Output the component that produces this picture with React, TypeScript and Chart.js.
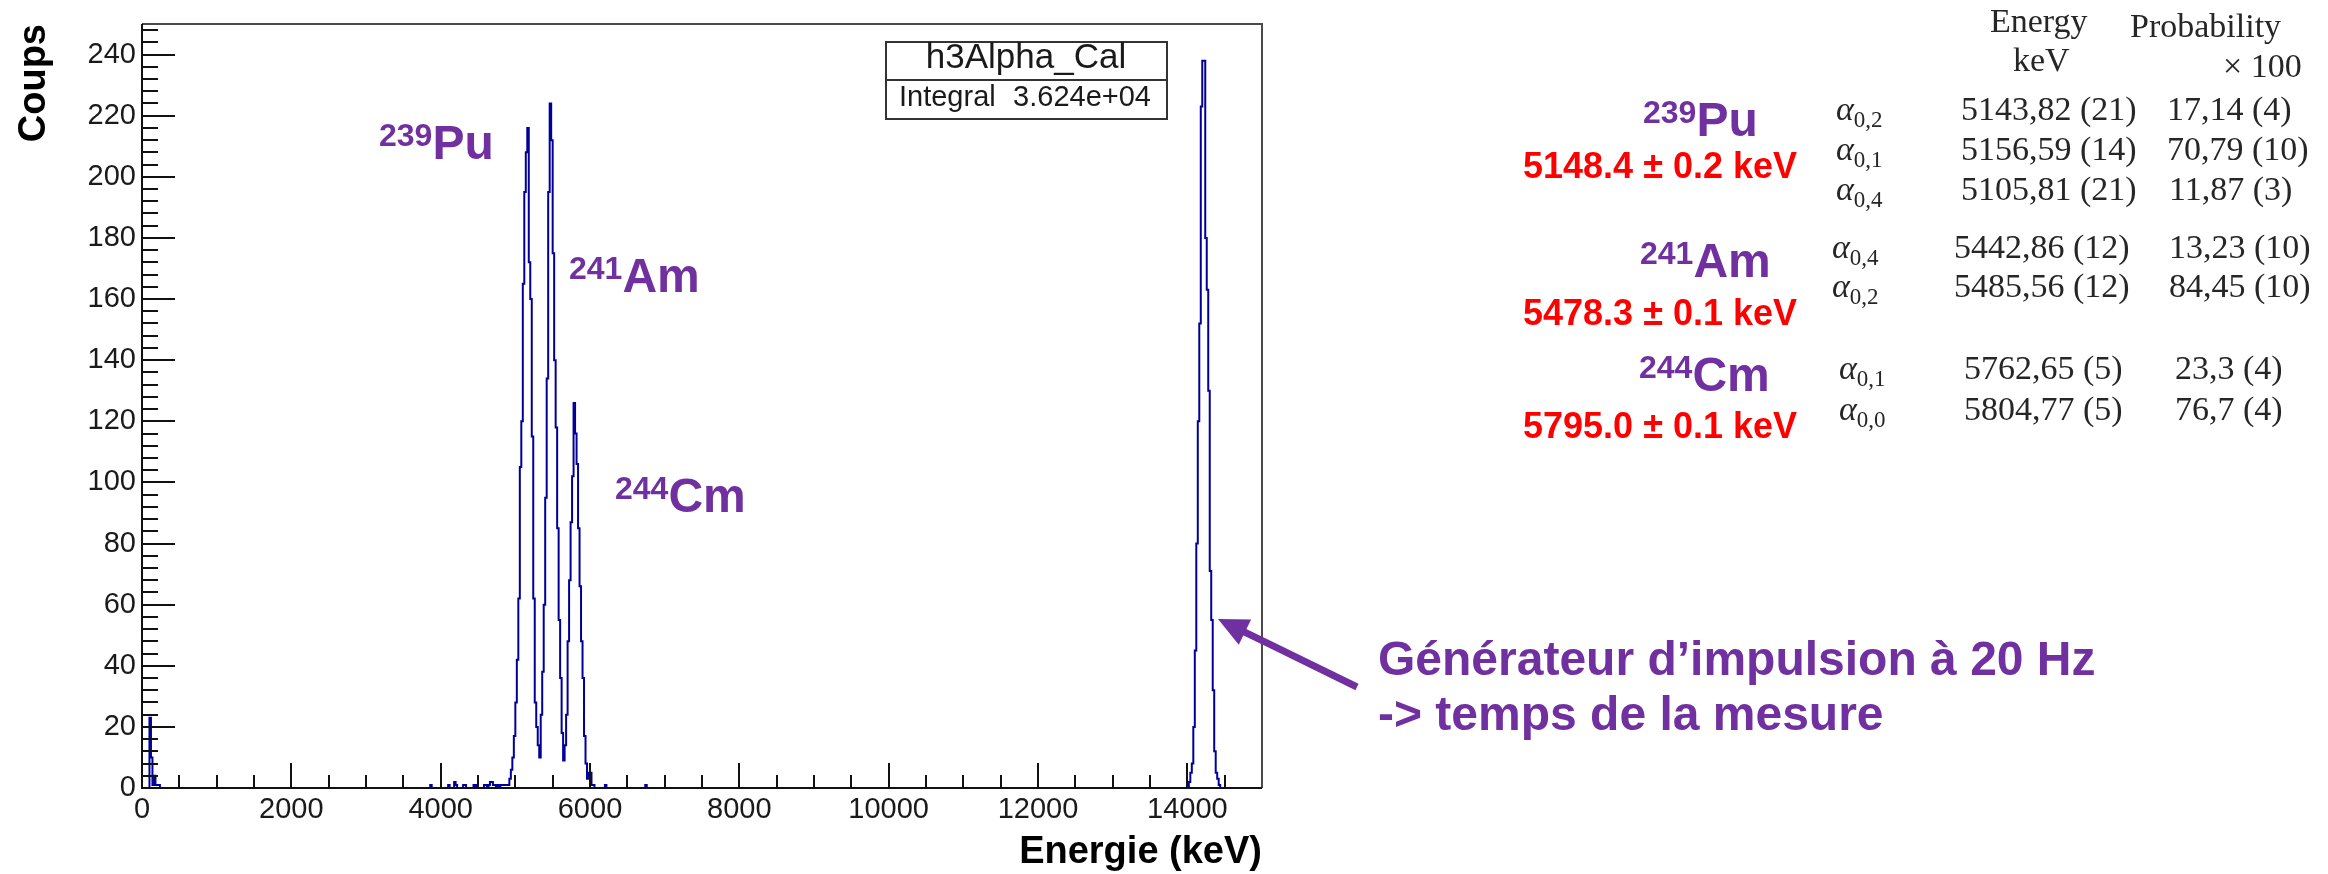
import React, { useEffect, useRef } from "react";
import { Chart, registerables } from "chart.js";

Chart.register(...registerables);

// ---------------- page geometry ----------------
const W = 2328;
const H = 874;
const SANS = "'Liberation Sans', Arial, Helvetica, sans-serif";
const SERIF = "'Liberation Serif', 'Times New Roman', serif";
const PURPLE = "#7030A0";
const RED = "#FF0000";
const HIST_COLOR = "rgb(0,0,153)";
const TABLE_COLOR = "#262626";

// ---------------- data ----------------
const BIN_WIDTH = 20; // keV
const X_MIN = 0;
const X_MAX = 15000;
const Y_MIN = 0;
const Y_MAX = 250;
const X_MAJOR = 2000;
const X_MINOR = 500;
const Y_MAJOR = 20;
const Y_MINOR = 4;

// tick labels
const xTickValues = [0, 2000, 4000, 6000, 8000, 10000, 12000, 14000];
const yTickValues = [0, 20, 40, 60, 80, 100, 120, 140, 160, 180, 200, 220, 240];

// low-energy noise (bins starting at 100 keV)
const lowStart = 100;
const lowCounts = [23, 10, 1, 4, 1, 1, 1];

// isolated counts (bin low edge, counts)
const strayEnergies = [3860, 4100, 4180, 4200, 4300, 4320, 4440, 4480, 4580, 4600, 4640, 4660, 4680, 4700, 4720, 4760, 4800, 4820, 4840, 4860, 4880, 4900, 6200, 6740];
const strayCounts = [1, 1, 2, 1, 1, 1, 1, 1, 1, 1, 1, 2, 2, 1, 1, 1, 1, 1, 1, 1, 1, 1, 1, 1];

// alpha triplet 239Pu / 241Am / 244Cm (bins starting at 4920 keV)
const alphaStart = 4920;
const alphaCounts = [
  3, 6, 10, 17, 28, 42, 62, 105, 120, 165,
  195, 208, 216, 172, 160, 115, 62, 28, 20, 14,
  10, 24, 38, 60, 95, 134, 195, 224, 212, 175,
  140, 118, 85, 55, 36, 18, 9, 14, 24, 48,
  68, 87, 102, 126, 116, 106, 85, 66, 48, 36,
  17, 8, 3, 5, 5, 1, 1,
];

// pulser peak (bins starting at 14020 keV)
const pulserStart = 14020;
const pulserCounts = [2, 5, 8, 20, 45, 80, 120, 152, 223, 238, 238, 180, 163, 130, 71, 55, 32, 12, 5, 3, 1];

const STATS_NAME = "h3Alpha_Cal";
const STATS_LABEL = "Integral";
const STATS_VALUE = "3.624e+04";

// reference table (text)
const isotopes = [
  { mass: "239", sym: "Pu", energy: "5148.4 ± 0.2 keV" },
  { mass: "241", sym: "Am", energy: "5478.3 ± 0.1 keV" },
  { mass: "244", sym: "Cm", energy: "5795.0 ± 0.1 keV" },
];
const lineSubs = ["0,2", "0,1", "0,4", "0,4", "0,2", "0,1", "0,0"];
const lineEnergies = ["5143,82 (21)", "5156,59 (14)", "5105,81 (21)", "5442,86 (12)", "5485,56 (12)", "5762,65 (5)", "5804,77 (5)"];
const lineProbs = ["17,14 (4)", "70,79 (10)", "11,87 (3)", "13,23 (10)", "84,45 (10)", "23,3 (4)", "76,7 (4)"];

// ---------------- layout of annotations (pixels) ----------------
const LAYOUT = {
  chartIso: [
    { x: 379, base: 160 },
    { x: 569, base: 293 },
    { x: 615, base: 513 },
  ],
  sideIso: [
    { x: 1643, base: 137 },
    { x: 1640, base: 278 },
    { x: 1639, base: 392 },
  ],
  sideEnergyRight: 1797,
  sideEnergyBase: [178, 325, 438],
  rowBase: [120, 160, 200, 258, 297, 379, 420],
  alphaX: [1836, 1836, 1836, 1832, 1832, 1839, 1839],
  energyX: [1961, 1961, 1961, 1954, 1954, 1964, 1964],
  probX: [2167, 2167, 2169, 2169, 2169, 2175, 2175],
};

function buildHistogram() {
  const n = Math.round((X_MAX - X_MIN) / BIN_WIDTH);
  const counts: number[] = new Array(n).fill(0);
  const put = (e: number, c: number) => {
    const i = Math.round((e - X_MIN) / BIN_WIDTH);
    if (i >= 0 && i < n) counts[i] = c;
  };
  lowCounts.forEach((c, k) => put(lowStart + k * BIN_WIDTH, c));
  strayEnergies.forEach((e, k) => put(e, strayCounts[k]));
  alphaCounts.forEach((c, k) => put(alphaStart + k * BIN_WIDTH, c));
  pulserCounts.forEach((c, k) => put(pulserStart + k * BIN_WIDTH, c));
  const pts = counts.map((c, i) => ({ x: X_MIN + i * BIN_WIDTH, y: c }));
  pts.push({ x: X_MAX, y: counts[n - 1] });
  return pts;
}

const rootAxesPlugin = {
  id: "rootAxes",
  afterDatasetsDraw(chart: any) {
    const { ctx, chartArea, scales } = chart;
    const { left, right, top, bottom } = chartArea;
    const xs = scales.x;
    const ys = scales.y;
    ctx.save();
    ctx.lineCap = "butt";
    ctx.lineWidth = 2;
    // frame (top/right)
    ctx.strokeStyle = "#4a4a4a";
    ctx.beginPath();
    ctx.moveTo(left, top);
    ctx.lineTo(right, top);
    ctx.lineTo(right, bottom);
    ctx.stroke();
    // axes
    ctx.strokeStyle = "#111";
    ctx.beginPath();
    ctx.moveTo(left, top);
    ctx.lineTo(left, bottom);
    ctx.lineTo(right, bottom);
    ctx.stroke();
    // x ticks (inward)
    ctx.beginPath();
    for (let v = X_MIN + X_MINOR; v < X_MAX; v += X_MINOR) {
      const p = Math.round(xs.getPixelForValue(v));
      const len = v % X_MAJOR === 0 ? 25 : 13;
      ctx.moveTo(p, bottom);
      ctx.lineTo(p, bottom - len);
    }
    // y ticks (inward)
    for (let v = Y_MIN + Y_MINOR; v < Y_MAX; v += Y_MINOR) {
      const p = Math.round(ys.getPixelForValue(v));
      const len = v % Y_MAJOR === 0 ? 33 : 16;
      ctx.moveTo(left, p);
      ctx.lineTo(left + len, p);
    }
    ctx.stroke();
    ctx.restore();
  },
};

function T(props: any) {
  const { x, right, center, base, size, color = "#000", bold = false, italic = false, family = SANS, children } = props;
  const k = family === SERIF ? 0.8375 : 0.8465;
  const style: any = {
    position: "absolute",
    top: base - k * size,
    fontFamily: family,
    fontSize: size,
    lineHeight: `${size}px`,
    color,
    fontWeight: bold ? 700 : 400,
    fontStyle: italic ? "italic" : "normal",
    whiteSpace: "nowrap",
  };
  if (right !== undefined) {
    style.right = W - right;
    style.textAlign = "right";
  } else if (center !== undefined) {
    style.left = center - 200;
    style.width = 400;
    style.textAlign = "center";
  } else {
    style.left = x;
  }
  return <div style={style}>{children}</div>;
}

function Isotope({ x, base, mass, sym }: any) {
  return (
    <T x={x} base={base} size={48} bold color={PURPLE}>
      <span style={{ fontSize: 32, position: "relative", top: -13, lineHeight: 0 }}>{mass}</span>
      {sym}
    </T>
  );
}

function Arrow() {
  const tail = { x: 1357, y: 687 };
  const tip = { x: 1218, y: 619 };
  const dx = tip.x - tail.x;
  const dy = tip.y - tail.y;
  const L = Math.hypot(dx, dy);
  const ux = dx / L;
  const uy = dy / L;
  const headLen = 30;
  const halfW = 14;
  const bx = tip.x - ux * headLen;
  const by = tip.y - uy * headLen;
  const px = -uy;
  const py = ux;
  const pts = `${tip.x},${tip.y} ${bx + px * halfW},${by + py * halfW} ${bx - px * halfW},${by - py * halfW}`;
  return (
    <svg width={W} height={H} style={{ position: "absolute", left: 0, top: 0, pointerEvents: "none" }}>
      <line x1={tail.x} y1={tail.y} x2={bx + ux * 2} y2={by + uy * 2} stroke={PURPLE} strokeWidth={7} />
      <polygon points={pts} fill={PURPLE} />
    </svg>
  );
}

export default function App() {
  const canvasRef = useRef<HTMLCanvasElement | null>(null);

  useEffect(() => {
    const canvas = canvasRef.current;
    if (!canvas) return;
    const pts = buildHistogram();
    const chart = new Chart(canvas, {
      type: "line",
      data: {
        datasets: [
          {
            label: STATS_NAME,
            data: pts,
            borderColor: HIST_COLOR,
            borderWidth: 2,
            pointRadius: 0,
            stepped: true,
            fill: false,
            tension: 0,
          } as any,
        ],
      },
      options: {
        animation: false,
        responsive: false,
        devicePixelRatio: 1,
        events: [],
        layout: { padding: { left: 0, top: 24, right: W - 1262, bottom: 0 } },
        plugins: {
          legend: { display: false },
          tooltip: { enabled: false },
          title: { display: false },
        },
        scales: {
          x: {
            type: "linear",
            position: "bottom",
            min: X_MIN,
            max: X_MAX,
            grid: { display: false, drawTicks: false },
            border: { display: false },
            afterBuildTicks: (s: any) => {
              s.ticks = xTickValues.map((v) => ({ value: v }));
            },
            ticks: {
              autoSkip: false,
              maxRotation: 0,
              minRotation: 0,
              padding: 5,
              color: "#1a1a1a",
              font: { family: SANS, size: 29 },
              callback: (v: any) => String(v),
            },
            title: {
              display: true,
              text: "Energie (keV)",
              align: "end",
              color: "#000",
              font: { family: SANS, size: 38, weight: "bold", lineHeight: 1 },
              padding: { top: 0, bottom: 2 },
            },
            afterFit: (s: any) => {
              s.height = H - 788;
            },
          },
          y: {
            type: "linear",
            position: "left",
            min: Y_MIN,
            max: Y_MAX,
            grid: { display: false, drawTicks: false },
            border: { display: false },
            afterBuildTicks: (s: any) => {
              s.ticks = yTickValues.map((v) => ({ value: v }));
            },
            ticks: {
              autoSkip: false,
              padding: 6,
              color: "#1a1a1a",
              font: { family: SANS, size: 29 },
              callback: (v: any) => String(v),
            },
            title: {
              display: true,
              text: "Coups",
              align: "end",
              color: "#000",
              font: { family: SANS, size: 38, weight: "bold", lineHeight: 1 },
              padding: { top: 16, bottom: 0 },
            },
            afterFit: (s: any) => {
              s.width = 142;
            },
          },
        },
      } as any,
      plugins: [rootAxesPlugin],
    });
    return () => chart.destroy();
  }, []);

  return (
    <div style={{ position: "absolute", left: 0, top: 0, width: W, height: H, background: "#fff", overflow: "hidden" }}>
      <canvas ref={canvasRef} width={W} height={H} style={{ position: "absolute", left: 0, top: 0, width: W, height: H, display: "block" }} />

      {/* stats box */}
      <div
        style={{
          position: "absolute",
          left: 885,
          top: 41,
          width: 283,
          height: 79,
          boxSizing: "border-box",
          border: "2px solid #333",
          background: "#fff",
        }}
      >
        <div style={{ position: "absolute", left: 0, right: 0, top: 36, height: 2, background: "#333" }} />
      </div>
      <T center={1026} base={68} size={35} color="#1a1a1a">{STATS_NAME}</T>
      <T x={899} base={107} size={29} color="#1a1a1a">{STATS_LABEL}</T>
      <T right={1151} base={107} size={29} color="#1a1a1a">{STATS_VALUE}</T>

      {/* isotope labels in the plot */}
      {isotopes.map((iso, i) => (
        <Isotope key={"c" + i} x={LAYOUT.chartIso[i].x} base={LAYOUT.chartIso[i].base} mass={iso.mass} sym={iso.sym} />
      ))}

      {/* right side: isotopes + fitted energies */}
      {isotopes.map((iso, i) => (
        <React.Fragment key={"s" + i}>
          <Isotope x={LAYOUT.sideIso[i].x} base={LAYOUT.sideIso[i].base} mass={iso.mass} sym={iso.sym} />
          <T right={LAYOUT.sideEnergyRight} base={LAYOUT.sideEnergyBase[i]} size={36} bold color={RED}>
            {iso.energy}
          </T>
        </React.Fragment>
      ))}

      {/* table header */}
      <T x={1990} base={32} size={34} family={SERIF} color={TABLE_COLOR}>Energy</T>
      <T x={2013} base={71} size={34} family={SERIF} color={TABLE_COLOR}>keV</T>
      <T x={2130} base={37} size={34} family={SERIF} color={TABLE_COLOR}>Probability</T>
      <T x={2223} base={77} size={34} family={SERIF} color={TABLE_COLOR}>× 100</T>

      {/* table rows */}
      {lineSubs.map((sub, i) => (
        <React.Fragment key={"r" + i}>
          <T x={LAYOUT.alphaX[i]} base={LAYOUT.rowBase[i]} size={34} family={SERIF} color={TABLE_COLOR}>
            <i>α</i>
            <span style={{ fontSize: 23, position: "relative", top: 7, lineHeight: 0 }}>{sub}</span>
          </T>
          <T x={LAYOUT.energyX[i]} base={LAYOUT.rowBase[i]} size={34} family={SERIF} color={TABLE_COLOR}>
            {lineEnergies[i]}
          </T>
          <T x={LAYOUT.probX[i]} base={LAYOUT.rowBase[i]} size={34} family={SERIF} color={TABLE_COLOR}>
            {lineProbs[i]}
          </T>
        </React.Fragment>
      ))}

      {/* pulser annotation */}
      <Arrow />
      <T x={1378} base={676} size={48} bold color={PURPLE}>Générateur d’impulsion à 20 Hz</T>
      <T x={1378} base={731} size={48} bold color={PURPLE}>-&gt; temps de la mesure</T>
    </div>
  );
}
